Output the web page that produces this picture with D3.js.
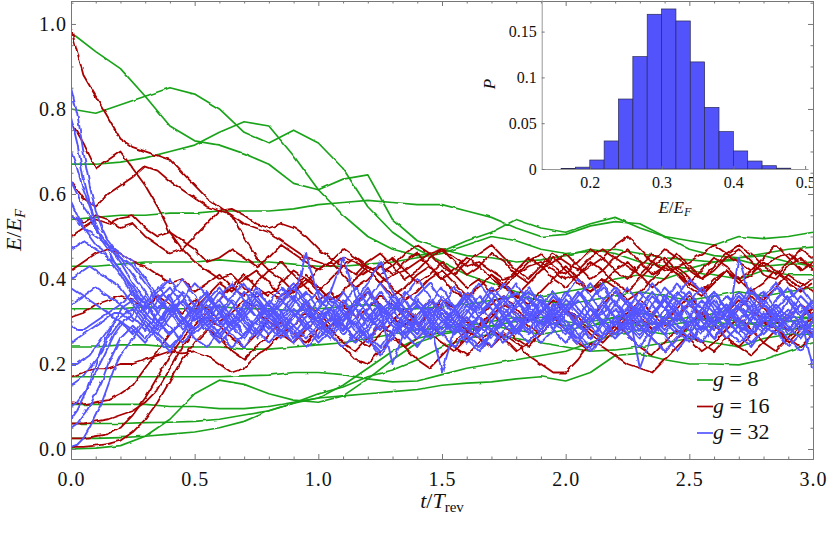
<!DOCTYPE html>
<html>
<head>
<meta charset="utf-8">
<script src="https://cdn.jsdelivr.net/npm/d3@7"></script>
<style>
  body { margin: 0; background: #fff; }
  text { font-family: "Liberation Serif", "DejaVu Serif", serif; fill: #111; }
</style>
</head>
<body>
<svg id="chart" width="830" height="533"></svg>
<script>
// ---------- data ----------
const tGreen = [0,0.1,0.2,0.3,0.4,0.5,0.6,0.7,0.8,0.9,1,1.1,1.2,1.3,1.4,1.5,1.6,1.7,1.8,1.9,2,2.1,2.2,2.3,2.4,2.5,2.6,2.7,2.8,2.9,3];

const greenLines = [
  [.98,.935,.895,.83,.76,.725,.715,.695,.67,.625, .61,.635,.645,.54,.49,.47,.455,.45,.44,.445, .455,.47,.46,.44,.43,.425,.44,.445,.43,.435, .44],
  [.80,.79,.81,.83,.85,.835,.80,.745,.72,.75, .72,.66,.57,.51,.47,.44,.41,.39,.37,.36, .37,.38,.40,.41,.40,.42,.41,.40,.42,.41, .41],
  [.67,.67,.675,.685,.70,.715,.745,.77,.76,.69, .61,.55,.50,.47,.455,.465,.49,.51,.54,.52, .51,.53,.545,.52,.50,.49,.48,.50,.495,.50, .51],
  [.54,.545,.55,.55,.555,.555,.56,.56,.56,.565, .575,.58,.585,.58,.575,.575,.56,.545,.52,.50, .505,.525,.535,.53,.50,.47,.455,.45,.46,.47, .475],
  [.43,.43,.435,.44,.44,.44,.445,.44,.44,.435, .43,.43,.435,.44,.45,.46,.48,.50,.49,.47, .46,.465,.47,.46,.45,.445,.44,.45,.455,.44, .43],
  [.33,.33,.33,.335,.33,.33,.335,.33,.33,.325, .33,.335,.34,.33,.33,.335,.34,.35,.36,.35, .34,.35,.36,.37,.36,.35,.36,.37,.36,.37, .38],
  [.24,.24,.245,.245,.24,.24,.24,.235,.235,.24, .245,.25,.26,.27,.28,.285,.29,.30,.31,.30, .29,.30,.31,.30,.29,.30,.31,.30,.29,.30, .30],
  [.17,.17,.17,.17,.17,.17,.17,.172,.174,.18, .18,.175,.165,.158,.16,.175,.19,.20,.21,.22, .23,.25,.27,.28,.27,.28,.29,.30,.29,.28, .29],
  [.105,.105,.105,.105,.10,.10,.095,.095,.10,.11, .12,.15,.19,.23,.26,.275,.28,.29,.28,.27, .28,.29,.30,.29,.30,.31,.30,.29,.30,.31, .31],
  [.06,.06,.06,.062,.063,.065,.07,.08,.09,.108, .12,.125,.13,.135,.14,.15,.155,.158,.165,.17, .16,.18,.22,.225,.21,.20,.20,.198,.21,.23, .25],
  [.025,.025,.027,.03,.035,.04,.05,.065,.09,.108, .13,.146,.17,.186,.21,.24,.26,.27,.26,.25, .24,.23,.233,.24,.25,.26,.25,.24,.26,.27, .27],
  [0,.002,.008,.03,.07,.13,.162,.152,.13,.115, .11,.125,.165,.21,.25,.27,.28,.29,.30,.31, .30,.29,.31,.32,.31,.30,.32,.33,.31,.30, .31]
];

const tRed = [0,0.05,0.1,0.15,0.2,0.25,0.3,0.35,0.4,0.45,0.5,0.55,0.6,0.65,0.7,0.75,0.8,0.85,0.9,0.95,
  1,1.05,1.1,1.15,1.2,1.25,1.3,1.35,1.4,1.45,1.5,1.55,1.6,1.65,1.7,1.75,1.8,1.85,1.9,1.95,
  2,2.05,2.1,2.15,2.2,2.25,2.3,2.35,2.4,2.45,2.5,2.55,2.6,2.65,2.7,2.75,2.8,2.85,2.9,2.95,3];

const redLines = [
  [.99,.88,.83,.78,.73,.71,.70,.69,.68,.65, .62,.59,.57,.55,.53,.52,.51,.49,.47,.45,
   .44,.43,.45,.44,.42,.43,.41,.42,.44,.46, .47,.45,.43,.44,.42,.40,.41,.43,.44,.42,
   .40,.41,.43,.45,.48,.50,.47,.44,.42,.43, .44,.46,.48,.46,.44,.42,.43,.45,.46,.44, .43],
  [.77,.72,.66,.68,.70,.66,.62,.57,.51,.47, .44,.42,.40,.41,.38,.36,.37,.35,.37,.40,
   .38,.35,.37,.40,.42,.39,.36,.38,.41,.43, .40,.37,.35,.38,.41,.38,.36,.39,.42,.45,
   .42,.39,.37,.40,.38,.35,.37,.40,.43,.41, .38,.36,.39,.42,.40,.37,.39,.42,.40,.38, .40],
  [.63,.59,.57,.60,.62,.64,.665,.655,.63,.61, .59,.57,.56,.565,.55,.53,.52,.53,.52,.50,
   .47,.45,.43,.41,.44,.46,.43,.40,.42,.45, .47,.44,.41,.43,.46,.44,.41,.39,.42,.44,
   .46,.43,.40,.42,.45,.47,.44,.41,.43,.46, .43,.40,.42,.45,.47,.44,.41,.40,.43,.45, .42],
  [.55,.53,.55,.54,.52,.53,.50,.48,.46,.47, .50,.53,.56,.55,.50,.45,.42,.44,.41,.38,
   .35,.37,.34,.31,.33,.36,.34,.31,.29,.32, .35,.33,.30,.28,.31,.34,.32,.29,.27,.30,
   .33,.31,.28,.26,.29,.32,.35,.32,.29,.31, .34,.31,.28,.30,.33,.36,.33,.30,.28,.31, .33],
  [.42,.44,.46,.47,.46,.44,.43,.41,.39,.40, .37,.39,.41,.38,.36,.39,.42,.40,.37,.39,
   .42,.44,.41,.38,.40,.43,.45,.42,.39,.41, .44,.41,.38,.40,.37,.39,.42,.45,.43,.40,
   .38,.41,.44,.42,.39,.37,.40,.43,.45,.42, .39,.37,.40,.42,.39,.41,.44,.42,.39,.37, .39],
  [.31,.32,.34,.35,.36,.35,.33,.36,.34,.32, .35,.33,.30,.32,.35,.33,.30,.28,.31,.34,
   .32,.29,.31,.34,.37,.34,.31,.29,.32,.35, .33,.30,.28,.31,.34,.36,.33,.30,.32,.35,
   .32,.29,.31,.34,.37,.34,.31,.28,.30,.33, .36,.33,.30,.32,.35,.33,.30,.28,.31,.34, .32],
  [.17,.18,.19,.19,.20,.20,.21,.22,.23,.225, .23,.22,.20,.18,.19,.22,.24,.27,.29,.32,
   .30,.27,.24,.21,.20,.23,.26,.24,.21,.19, .22,.25,.28,.26,.24,.27,.25,.22,.20,.18,
   .18,.21,.25,.24,.22,.20,.19,.18,.21,.24, .27,.25,.23,.26,.24,.22,.25,.28,.26,.24, .27],
  [.11,.105,.11,.115,.13,.15,.19,.23,.27,.30, .33,.36,.39,.37,.40,.42,.39,.36,.38,.41,
   .38,.35,.37,.40,.43,.41,.38,.35,.37,.40, .42,.39,.36,.38,.41,.39,.36,.34,.37,.40,
   .43,.40,.37,.39,.42,.44,.41,.38,.40,.43, .40,.37,.39,.42,.40,.37,.35,.38,.41,.39, .37],
  [.06,.06,.065,.07,.08,.09,.11,.14,.19,.24, .28,.31,.29,.26,.24,.27,.30,.27,.25,.28,
   .31,.28,.25,.23,.26,.29,.27,.24,.26,.29, .27,.24,.22,.25,.28,.26,.23,.25,.28,.31,
   .28,.25,.23,.26,.29,.27,.24,.22,.25,.28, .26,.23,.25,.28,.31,.28,.25,.23,.26,.29, .27],
  [.025,.025,.03,.035,.05,.08,.12,.17,.22,.26, .29,.32,.35,.38,.41,.38,.36,.39,.42,.40,
   .37,.40,.43,.45,.42,.39,.41,.44,.46,.43, .40,.42,.45,.43,.40,.38,.41,.44,.46,.43,
   .41,.44,.47,.45,.42,.40,.43,.46,.44,.41, .39,.42,.45,.43,.40,.42,.45,.48,.45,.42, .44],
  [.005,.005,.008,.012,.02,.04,.07,.11,.16,.21, .25,.28,.26,.23,.21,.24,.27,.30,.27,.25,
   .28,.31,.29,.26,.24,.27,.30,.33,.30,.27, .25,.23,.26,.29,.32,.29,.26,.24,.27,.30,
   .33,.30,.27,.25,.28,.31,.29,.26,.23,.26, .29,.32,.29,.26,.24,.27,.30,.28,.25,.28, .31],
  [.50,.52,.54,.53,.545,.55,.52,.50,.51,.49, .47,.44,.45,.47,.45,.43,.45,.48,.46,.44,
   .42,.44,.47,.45,.43,.41,.43,.46,.48,.46, .43,.41,.44,.46,.48,.45,.42,.40,.43,.46,
   .44,.42,.45,.47,.45,.43,.41,.44,.47,.45, .42,.40,.43,.46,.48,.46,.43,.41,.44,.47, .45]
];

const tBlue = [0,0.025,0.05,0.075,0.1,0.125,0.15,0.175,0.2,
  0.25,0.3,0.35,0.4,0.45,0.5,0.55,0.6, 0.65,0.7,0.75,0.8,0.85,0.9,0.95,1,
  1.05,1.1,1.15,1.2,1.25,1.3,1.35,1.4, 1.45,1.5,1.55,1.6,1.65,1.7,1.75,1.8,
  1.85,1.9,1.95,2,2.05,2.1,2.15,2.2, 2.25,2.3,2.35,2.4,2.45,2.5,2.55,2.6,
  2.65,2.7,2.75,2.8,2.85,2.9,2.95,3];

const blueLines = [
  [.85,.79,.70,.62,.56,.52,.49,.47,.45,
   .41,.37,.33,.36,.31,.28,.32,.35, .31,.27,.30,.34,.38,.35,.46,.36, .31,.28,.33,.37,.32,.29,.26,.30,
   .34,.38,.33,.29,.31,.35,.32,.28, .30,.34,.37,.33,.29,.26,.30,.34, .38,.34,.30,.27,.31,.35,.33,.29,
   .32,.36,.33,.29,.27,.31,.34,.30],
  [.78,.72,.64,.58,.53,.50,.48,.46,.44,
   .39,.35,.30,.27,.30,.34,.37,.33, .29,.32,.36,.32,.28,.25,.29,.33, .37,.45,.36,.31,.28,.32,.35,.30,
   .27,.30,.33,.37,.34,.30,.26,.29, .33,.36,.32,.28,.31,.35,.39,.34, .30,.27,.31,.36,.33,.28,.25,.29,
   .33,.37,.34,.30,.33,.36,.32,.35],
  [.70,.66,.61,.57,.53,.49,.47,.44,.42,
   .37,.32,.29,.33,.37,.34,.30,.27, .30,.34,.31,.28,.32,.36,.33,.29, .26,.30,.34,.38,.33,.20,.28,.32,
   .35,.31,.27,.30,.34,.38,.35,.31, .28,.32,.36,.33,.29,.31,.35,.38, .34,.19,.27,.31,.35,.32,.28,.30,
   .34,.31,.27,.30,.34,.31,.28,.32],
  [.63,.60,.57,.55,.52,.50,.48,.46,.45,
   .43,.39,.35,.38,.34,.30,.33,.37, .34,.30,.27,.31,.35,.32,.28,.31, .35,.32,.28,.25,.29,.33,.37,.34,
   .30,.18,.28,.32,.36,.33,.29,.27, .31,.35,.32,.28,.26,.30,.34,.31, .27,.30,.34,.38,.35,.31,.28,.32,
   .36,.33,.30,.34,.38,.35,.31,.19],
  [.55,.54,.52,.51,.50,.49,.48,.47,.46,
   .44,.40,.36,.32,.35,.39,.36,.32, .29,.33,.37,.34,.30,.27,.31,.35, .32,.28,.31,.35,.39,.35,.31,.28,
   .32,.36,.33,.29,.26,.30,.34,.37, .33,.29,.32,.36,.40,.36,.32,.29, .33,.37,.34,.30,.27,.31,.35,.32,
   .28,.45,.35,.31,.28,.32,.36,.33],
  [.47,.48,.49,.48,.47,.46,.45,.44,.42,
   .38,.34,.38,.35,.31,.28,.31,.35, .39,.35,.31,.34,.30,.26,.29,.33, .36,.33,.29,.26,.30,.34,.31,.27,
   .30,.34,.38,.35,.31,.28,.32,.35, .31,.27,.30,.33,.37,.34,.30,.27, .31,.35,.39,.35,.32,.29,.33,.37,
   .33,.29,.27,.31,.35,.38,.34,.30],
  [.40,.41,.42,.43,.42,.41,.40,.39,.38,
   .34,.30,.27,.31,.35,.32,.36,.33, .29,.26,.30,.33,.30,.34,.37,.33, .30,.34,.38,.34,.30,.27,.31,.34,
   .31,.27,.30,.34,.31,.35,.39,.35, .32,.28,.31,.35,.32,.29,.33,.37, .34,.30,.27,.30,.34,.37,.33,.29,
   .32,.36,.32,.28,.31,.35,.31,.28],
  [.34,.35,.36,.37,.38,.37,.36,.35,.34,
   .31,.28,.32,.36,.40,.36,.32,.29, .33,.37,.33,.29,.26,.29,.33,.30, .27,.31,.35,.32,.28,.32,.36,.40,
   .36,.32,.29,.33,.29,.26,.30,.34, .38,.34,.30,.27,.31,.35,.38,.34, .31,.28,.32,.35,.31,.28,.32,.36,
   .33,.29,.32,.36,.39,.35,.31,.34],
  [.25,.26,.27,.28,.29,.30,.31,.32,.32,
   .30,.34,.30,.27,.30,.33,.29,.26, .30,.34,.38,.34,.31,.35,.32,.28, .31,.35,.31,.27,.24,.28,.32,.35,
   .32,.28,.31,.35,.39,.35,.31,.33, .36,.32,.28,.25,.29,.33,.30,.27, .30,.34,.31,.35,.39,.35,.31,.28,
   .30,.27,.30,.34,.31,.35,.38,.34],
  [.20,.20,.21,.22,.24,.26,.28,.30,.31,
   .33,.29,.26,.23,.27,.31,.28,.31, .35,.32,.28,.25,.28,.32,.29,.25, .28,.32,.29,.33,.37,.33,.29,.26,
   .29,.33,.30,.26,.23,.27,.31,.28, .31,.35,.31,.34,.30,.26,.29,.33, .29,.26,.30,.27,.23,.27,.31,.35,
   .31,.27,.24,.28,.32,.29,.26,.30],
  [.15,.16,.17,.19,.21,.23,.26,.28,.30,
   .28,.25,.29,.33,.30,.26,.24,.28, .32,.29,.26,.30,.27,.31,.35,.31, .27,.24,.27,.31,.34,.30,.27,.24,
   .28,.32,.29,.25,.28,.32,.36,.32, .28,.25,.28,.32,.29,.33,.29,.26, .29,.33,.37,.33,.29,.26,.29,.26,
   .30,.34,.30,.27,.30,.33,.29,.26],
  [.10,.11,.13,.15,.18,.21,.24,.27,.29,
   .32,.36,.32,.29,.25,.28,.31,.27, .24,.27,.30,.27,.31,.28,.24,.27, .31,.27,.30,.26,.23,.27,.30,.34,
   .30,.27,.24,.27,.31,.28,.25,.28, .32,.29,.33,.29,.26,.23,.26,.30, .27,.24,.28,.31,.28,.25,.29,.32,
   .28,.25,.28,.32,.29,.26,.23,.27],
  [.05,.06,.08,.10,.13,.16,.20,.23,.26,
   .29,.26,.30,.34,.31,.27,.30,.34, .30,.27,.31,.35,.32,.29,.26,.29, .33,.29,.26,.29,.33,.30,.27,.31,
   .35,.31,.28,.31,.27,.24,.28,.31, .27,.30,.34,.30,.27,.24,.27,.31, .35,.31,.27,.30,.34,.37,.33,.30,
   .26,.29,.25,.28,.32,.28,.31,.27],
  [.005,.01,.025,.05,.08,.11,.15,.19,.22,
   .26,.30,.27,.24,.27,.31,.34,.30, .27,.24,.28,.32,.29,.33,.30,.26, .29,.33,.29,.26,.22,.26,.30,.27,
   .31,.34,.30,.27,.24,.27,.31,.28, .25,.28,.32,.28,.25,.29,.26,.30, .33,.29,.26,.23,.26,.30,.27,.31,
   .34,.30,.27,.31,.28,.24,.27,.30],
  [.58,.55,.52,.50,.48,.47,.45,.43,.41,
   .36,.33,.37,.40,.36,.32,.29,.32, .36,.39,.35,.31,.28,.31,.34,.30, .27,.31,.35,.39,.44,.37,.33,.29,
   .26,.29,.33,.36,.32,.35,.31,.27, .30,.33,.29,.32,.36,.39,.35,.31, .28,.32,.36,.33,.37,.34,.30,.26,
   .29,.33,.37,.34,.30,.33,.29,.26],
  [.38,.37,.36,.35,.34,.33,.32,.31,.30,
   .27,.31,.35,.32,.28,.31,.35,.38, .34,.31,.35,.32,.36,.39,.35,.31, .33,.29,.25,.28,.31,.35,.32,.36,
   .39,.35,.32,.28,.31,.27,.30,.34, .37,.34,.30,.33,.37,.33,.30,.27, .30,.33,.29,.33,.36,.40,.37,.33,
   .30,.27,.31,.35,.32,.28,.31,.35],
  [.29,.28,.28,.29,.30,.31,.32,.33,.34,
   .37,.34,.30,.33,.29,.32,.36,.32, .28,.31,.27,.31,.34,.38,.34,.37, .34,.30,.33,.29,.32,.36,.33,.29,
   .33,.30,.27,.31,.28,.32,.35,.39, .35,.32,.36,.32,.35,.31,.27,.31, .35,.32,.29,.33,.30,.34,.38,.34,
   .31,.34,.38,.34,.31,.27,.30,.26],
  [.07,.09,.12,.16,.20,.24,.27,.30,.33,
   .35,.31,.28,.32,.35,.31,.28,.25, .28,.31,.34,.31,.35,.38,.34,.30, .33,.37,.33,.30,.34,.31,.27,.30,
   .26,.29,.32,.36,.33,.37,.33,.30, .34,.30,.33,.37,.33,.30,.32,.35, .31,.34,.31,.28,.32,.29,.33,.37,
   .33,.30,.34,.37,.33,.30,.34,.31]
];

// inset histogram: lower bin edges and probabilities
const histLo = [0.16,0.18,0.20,0.22,0.24,0.26,0.28,0.30,0.32,0.34,0.36,0.38,0.40,0.42,0.44,0.46];
const histP  = [0.0005,0.002,0.0098,0.0306,0.0764,0.1227,0.1689,0.1747,0.1616,0.1169,0.0673,0.0408,0.0197,0.0087,0.0036,0.0009];
const histBinWidth = 0.02;

const xMajor = [0,0.5,1,1.5,2,2.5,3];
const xMinor = [0.1,0.2,0.3,0.4,0.6,0.7,0.8,0.9,1.1,1.2,1.3,1.4,1.6,1.7,1.8,1.9,2.1,2.2,2.3,2.4,2.6,2.7,2.8,2.9];
const yMajor = [0,0.2,0.4,0.6,0.8,1];
const yMinor = [0.05,0.1,0.15,0.25,0.3,0.35,0.45,0.5,0.55,0.65,0.7,0.75,0.85,0.9,0.95,1.05];
const insetXTicks = [0.2,0.3,0.4,0.5];
const insetYTicks = [0,0.05,0.1,0.15];

const legendLabels = ["8","16","32"];
const colors = {green: "#1aa31a", red: "#a80000", blue: "#5555ff"};
const legendColors = [colors.green, colors.red, colors.blue];

// ---------- layout ----------
const svg = d3.select("#chart");
const frame = {left: 71, right: 813, top: 1, bottom: 459};

const x = d3.scaleLinear().domain([0, 3]).range([frame.left, frame.right]);
const y = d3.scaleLinear().domain([-0.0235, 1.054]).range([frame.bottom, frame.top]);

const defs = svg.append("defs");
defs.append("clipPath").attr("id", "plotClip")
  .append("rect")
  .attr("x", frame.left).attr("y", frame.top)
  .attr("width", frame.right - frame.left).attr("height", frame.bottom - frame.top);

// gentle waviness on the stroke, to soften the straight segments
function wavyFilter(id, freq, scale) {
  const f = defs.append("filter").attr("id", id)
    .attr("filterUnits", "userSpaceOnUse")
    .attr("x", 0).attr("y", 0).attr("width", 830).attr("height", 533);
  f.append("feTurbulence").attr("type", "fractalNoise").attr("baseFrequency", freq)
    .attr("numOctaves", 1).attr("seed", 7).attr("result", "n");
  f.append("feDisplacementMap").attr("in", "SourceGraphic").attr("in2", "n")
    .attr("scale", scale).attr("xChannelSelector", "R").attr("yChannelSelector", "G");
}
wavyFilter("wavySoft", 0.1, 2.5);
wavyFilter("wavyHard", 0.14, 4);

// ---------- trajectories ----------
const lineGen = d3.line().x(d => x(d[0])).y(d => y(d[1]));
const lineLayer = svg.append("g").attr("clip-path", "url(#plotClip)");

function drawGroup(times, lines, color, cls, width, filterId) {
  const pts = lines.map(v => v.map((e, i) => [times[i], e]).filter(p => p[0] !== undefined));
  lineLayer.append("g").attr("filter", `url(#${filterId})`)
    .selectAll("path." + cls).data(pts).enter().append("path")
    .attr("class", cls)
    .attr("d", lineGen)
    .attr("fill", "none")
    .attr("stroke", color)
    .attr("stroke-width", width)
    .attr("stroke-linejoin", "round");
}
drawGroup(tGreen, greenLines, colors.green, "g8", 1.7, "wavySoft");
drawGroup(tRed, redLines, colors.red, "g16", 1.8, "wavyHard");
drawGroup(tBlue, blueLines, colors.blue, "g32", 1.9, "wavyHard");

// ---------- frame and ticks ----------
const frameColor = "#777";
function styleAxis(g, size) {
  g.attr("font-family", null);
  g.select(".domain").attr("stroke", frameColor);
  g.selectAll(".tick line").attr("stroke", frameColor);
  g.selectAll(".tick text").attr("font-size", size).attr("fill", "#111");
}

const bottomAx = svg.append("g").attr("transform", `translate(0,${frame.bottom})`)
  .call(d3.axisBottom(x).tickValues(xMajor).tickSize(-5).tickSizeOuter(0).tickPadding(13).tickFormat(d3.format(".1f")));
styleAxis(bottomAx, 20);
bottomAx.selectAll(".tick text").attr("letter-spacing", 1);
svg.append("g").attr("transform", `translate(0,${frame.bottom})`)
  .call(d3.axisBottom(x).tickValues(xMinor).tickSize(-2.5).tickSizeOuter(0).tickFormat(""))
  .call(g => styleAxis(g, 0));

const topAx = svg.append("g").attr("transform", `translate(0,${frame.top})`)
  .call(d3.axisTop(x).tickValues(xMajor).tickSize(-5).tickSizeOuter(0).tickFormat(""));
styleAxis(topAx, 0);
svg.append("g").attr("transform", `translate(0,${frame.top})`)
  .call(d3.axisTop(x).tickValues(xMinor).tickSize(-2.5).tickSizeOuter(0).tickFormat(""))
  .call(g => styleAxis(g, 0));

const leftAx = svg.append("g").attr("transform", `translate(${frame.left},0)`)
  .call(d3.axisLeft(y).tickValues(yMajor).tickSize(-5).tickSizeOuter(0).tickPadding(4).tickFormat(d3.format(".1f")));
styleAxis(leftAx, 20);
leftAx.selectAll(".tick text").attr("letter-spacing", 1);
svg.append("g").attr("transform", `translate(${frame.left},0)`)
  .call(d3.axisLeft(y).tickValues(yMinor).tickSize(-2.5).tickSizeOuter(0).tickFormat(""))
  .call(g => styleAxis(g, 0));

const rightAx = svg.append("g").attr("transform", `translate(${frame.right},0)`)
  .call(d3.axisRight(y).tickValues(yMajor).tickSize(-5).tickSizeOuter(0).tickFormat(""));
styleAxis(rightAx, 0);
svg.append("g").attr("transform", `translate(${frame.right},0)`)
  .call(d3.axisRight(y).tickValues(yMinor).tickSize(-2.5).tickSizeOuter(0).tickFormat(""))
  .call(g => styleAxis(g, 0));

// axis titles
const yTitle = svg.append("text").attr("transform", "translate(21,230) rotate(-90)")
  .attr("text-anchor", "middle").attr("font-size", 22);
yTitle.append("tspan").attr("font-style", "italic").text("E");
yTitle.append("tspan").text("/");
yTitle.append("tspan").attr("font-style", "italic").text("E");
yTitle.append("tspan").attr("font-style", "italic").attr("font-size", 15).attr("dy", 4).text("F");

const xTitle = svg.append("text").attr("x", (frame.left + frame.right) / 2).attr("y", 508)
  .attr("text-anchor", "middle").attr("font-size", 22);
xTitle.append("tspan").attr("font-style", "italic").text("t");
xTitle.append("tspan").text("/");
xTitle.append("tspan").attr("font-style", "italic").text("T");
xTitle.append("tspan").attr("font-size", 15).attr("dy", 4).text("rev");

// ---------- legend ----------
const legend = svg.append("g");
const legendRows = legend.selectAll("g").data(legendLabels).enter().append("g")
  .attr("transform", (d, i) => `translate(697,${380 + i * 26.5})`);
legendRows.append("line").attr("x1", 0).attr("x2", 16).attr("y1", 0).attr("y2", 0)
  .attr("stroke", (d, i) => legendColors[i]).attr("stroke-width", 1.7);
const legendText = legendRows.append("text").attr("x", 16).attr("y", 6).attr("font-size", 22);
legendText.append("tspan").attr("font-style", "italic").text("g");
legendText.append("tspan").text(d => " = " + d);

// ---------- inset histogram ----------
const inset = {left: 541.7, right: 808, top: 0, bottom: 169};
const ix = d3.scaleLinear().domain([0.133, 0.504]).range([inset.left, inset.right]);
const iy = d3.scaleLinear().domain([0, 0.1845]).range([inset.bottom, inset.top]);

defs.append("clipPath").attr("id", "insetClip")
  .append("rect").attr("x", 0).attr("y", 0).attr("width", frame.right).attr("height", 533);
const insetG = svg.append("g").attr("clip-path", "url(#insetClip)");

insetG.selectAll("rect.bar").data(histLo).enter().append("rect")
  .attr("class", "bar")
  .attr("x", d => ix(d))
  .attr("width", d => ix(d + histBinWidth) - ix(d))
  .attr("y", (d, i) => iy(histP[i]))
  .attr("height", (d, i) => iy(0) - iy(histP[i]))
  .attr("fill", "#5353fb")
  .attr("stroke", "#2a2a55")
  .attr("stroke-width", 0.7);

const insetXAx = insetG.append("g").attr("transform", `translate(0,${inset.bottom})`)
  .call(d3.axisBottom(ix).tickValues(insetXTicks).tickSize(-3).tickSizeOuter(0).tickPadding(8).tickFormat(d3.format(".1f")));
styleAxis(insetXAx, 16);
insetXAx.select(".domain").attr("stroke", "#999");

const insetYAx = insetG.append("g").attr("transform", `translate(${inset.left},0)`)
  .call(d3.axisLeft(iy).tickValues(insetYTicks).tickSize(-3).tickSizeOuter(0).tickPadding(5)
    .tickFormat(d => d === 0 ? "0" : String(d)));
styleAxis(insetYAx, 16);
insetYAx.select(".domain").attr("stroke", "#999");

svg.append("text").attr("transform", "translate(495,84) rotate(-90)")
  .attr("text-anchor", "middle").attr("font-size", 17).attr("font-style", "italic").text("P");

const eTitle = svg.append("text").attr("x", (inset.left + inset.right) / 2).attr("y", 213)
  .attr("text-anchor", "middle").attr("font-size", 17);
eTitle.append("tspan").attr("font-style", "italic").text("E");
eTitle.append("tspan").text("/");
eTitle.append("tspan").attr("font-style", "italic").text("E");
eTitle.append("tspan").attr("font-style", "italic").attr("font-size", 12).attr("dy", 3).text("F");
</script>
</body>
</html>
